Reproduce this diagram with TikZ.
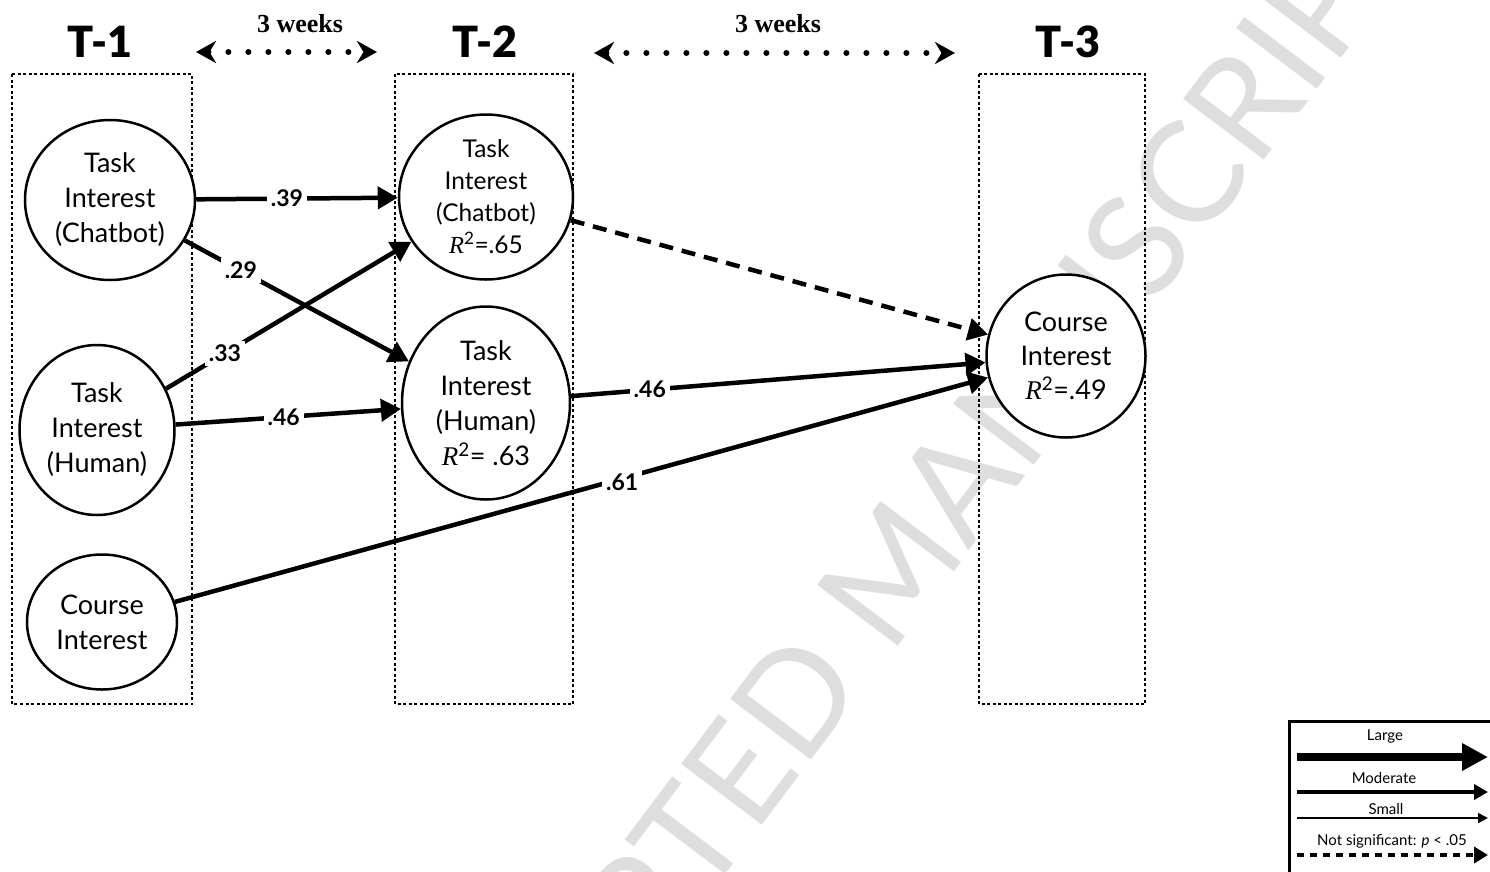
\documentclass[tikz,border=0pt]{standalone}
\usepackage{fontspec}
\setmainfont{Lato}
\newfontfamily\weeksfont{Liberation Serif}
\newfontfamily\heavyfont{Lato Black}
\usetikzlibrary{arrows.meta,shapes.geometric,positioning}
\newcommand{\Rsq}{{\weeksfont\itshape R}\textsuperscript{2}}

\begin{document}
\begin{tikzpicture}[x=1pt,y=-1pt,
	var/.style={draw,fill=white,ellipse,line width=2.5pt,inner sep=0pt,align=center,font=\fontsize{27}{35}\selectfont},
	wave/.style={draw,line width=1.5pt,dash pattern=on 3pt off 2.5pt},
	effect/.style={line width=4.5pt,-{Triangle[length=20pt,width=22pt]}},
	coef/.style={fill=white,inner sep=4pt,font=\fontsize{23}{23}\selectfont\bfseries},
	period/.style={font=\heavyfont\fontsize{43}{43}\selectfont},
	interval/.style={line width=6pt,dash pattern=on 0pt off 20pt,line cap=round,{Stealth[length=20pt,width=22pt]}-{Stealth[length=20pt,width=22pt]}},
	weeks/.style={font=\weeksfont\fontsize{26}{26}\selectfont\bfseries},
	keytext/.style={font=\fontsize{15}{15}\selectfont}]
	\useasboundingbox (0,0) rectangle (1490,871);
	\clip (0,0) rectangle (1490,871);
	\node[rotate=53,text=black!13,font=\fontsize{141}{141}\selectfont] (stamp) at (895,566) {ACCEPTED MANUSCRIPT};
	% waves
	\draw[wave] (12,74) rectangle (192,704);
	\draw[wave] (395,74) rectangle (573,704);
	\draw[wave] (979,74) rectangle (1145,704);
	\node[period] (t1) at (100,42) {T-1};
	\node[period] (t2) at (485,42) {T-2};
	\node[period] (t3) at (1068,42) {T-3};
	\coordinate (w1l) at (196,52);
	\coordinate (w1r) at (377,52);
	\coordinate (w2l) at (594,53);
	\coordinate (w2r) at (955,53);
	\draw[interval] (w1l) -- (w1r);
	\draw[interval] (w2l) -- (w2r);
	\node[weeks] (wk1) at (300,24) {3 weeks};
	\node[weeks] (wk2) at (778,24) {3 weeks};
	% variables
	\node[var,minimum width=170pt,minimum height=160pt] (tic1) at (110,200) {Task\\Interest\\(Chatbot)};
	\node[var,minimum width=155pt,minimum height=170pt] (tih1) at (97,430) {Task\\Interest\\(Human)};
	\node[var,minimum width=150pt,minimum height=135pt] (ci1) at (102,622) {Course\\Interest};
	\node[var,minimum width=174pt,minimum height=165pt,font=\fontsize{24.5}{32}\selectfont] (tic2) at (486,197) {Task\\Interest\\(Chatbot)\\\Rsq=.65};
	\node[var,minimum width=168pt,minimum height=193pt] (tih2) at (486,403) {Task\\Interest\\(Human)\\\Rsq= .63};
	\node[var,minimum width=159pt,minimum height=163pt,font=\fontsize{27}{34}\selectfont] (ci3) at (1066,356) {Course\\Interest\\\Rsq=.49};
	% paths
	\draw[effect] (tic1) -- node[coef,pos=0.45] (e39) {.39} (tic2);
	\draw[effect] (tic1) -- node[coef,pos=0.25] (e29) {.29} (tih2);
	\draw[effect] (tih1) -- node[coef,pos=0.24] (e33) {.33} (tic2);
	\draw[effect] (tih1) -- node[coef,pos=0.48] (e46a) {.46} (tih2);
	\draw[effect] (ci1) -- node[coef,pos=0.55,yshift=-4pt] (e61) {.61} (ci3);
	\draw[effect] (tih2) -- node[coef,pos=0.19] (e46b) {.46} (ci3);
	\draw[effect,dash pattern=on 14pt off 9pt] (tic2) -- (ci3);
	% legend
	\draw[line width=3pt] (1289,900) -- (1289,721) -- (1520,721);
	\node[keytext] (lgl) at (1385,736) {Large};
	\node[keytext] (lgm) at (1384,778) {Moderate};
	\node[keytext] (lgs) at (1386,809) {Small};
	\node[keytext] (lgn) at (1392,841) {Not significant: \textit{p} < .05};
	\coordinate (lg1a) at (1297,757);
	\coordinate (lg1b) at (1488,757);
	\coordinate (lg2a) at (1297,792);
	\coordinate (lg2b) at (1488,792);
	\coordinate (lg3a) at (1297,818);
	\coordinate (lg3b) at (1488,818);
	\coordinate (lg4a) at (1297,855);
	\coordinate (lg4b) at (1488,855);
	\draw[line width=8pt,-{Triangle[length=26pt,width=26pt]}] (lg1a) -- (lg1b);
	\draw[line width=4pt,-{Triangle[length=14pt,width=15pt]}] (lg2a) -- (lg2b);
	\draw[line width=1.8pt,-{Triangle[length=10pt,width=10pt]}] (lg3a) -- (lg3b);
	\draw[line width=3.5pt,dash pattern=on 7pt off 6pt,-{Triangle[length=14pt,width=16pt]}] (lg4a) -- (lg4b);
\end{tikzpicture}
\end{document}
